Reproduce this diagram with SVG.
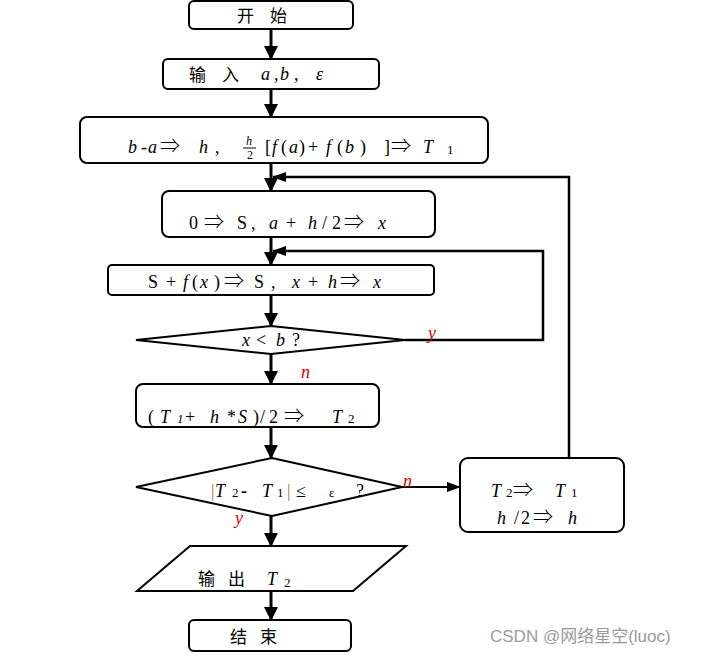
<svg xmlns="http://www.w3.org/2000/svg" width="704" height="656" viewBox="0 0 704 656">
<defs>
<marker id="ah" markerUnits="userSpaceOnUse" markerWidth="14" markerHeight="14" viewBox="0 0 14 14" refX="13" refY="7" orient="auto"><path d="M0,0 L14,7 L0,14 z" fill="#000"/></marker>
<marker id="ahs" markerUnits="userSpaceOnUse" markerWidth="14" markerHeight="10" viewBox="0 0 14 10" refX="13" refY="5" orient="auto"><path d="M0,0 L14,5 L0,10 z" fill="#000"/></marker>
</defs>
<style>
.box{fill:#fff;stroke:#000;stroke-width:2}
.main{stroke:#000;stroke-width:3;fill:none}
.fb{stroke:#000;stroke-width:2.5;fill:none}
.cn{font-family:"Noto Sans CJK SC","Noto Sans CJK JP",serif;font-size:17px;fill:#000}
.m{font-family:"Liberation Serif","DejaVu Serif",serif;font-size:18px;fill:#000}
.i{font-style:italic}
.sub{font-size:13px}
.ar{font-family:"Noto Sans CJK SC","DejaVu Serif",serif;font-size:20px;font-weight:300}
.fr{font-size:12px}
.red{font-family:"Liberation Serif",serif;font-style:italic;font-size:18px;fill:#e00000}
.wm{font-family:"Liberation Sans","Noto Sans CJK SC",sans-serif;font-size:17px;fill:#9a9a9a}
</style>
<g id="connectors">
<line class="main" x1="271" y1="29" x2="271" y2="59" marker-end="url(#ah)"/>
<line class="main" x1="271" y1="89" x2="271" y2="117" marker-end="url(#ah)"/>
<line class="main" x1="271" y1="163" x2="271" y2="191" marker-end="url(#ah)"/>
<line class="main" x1="271" y1="237" x2="271" y2="265" marker-end="url(#ah)"/>
<line class="main" x1="271" y1="295" x2="271" y2="326" marker-end="url(#ah)"/>
<line class="main" x1="271" y1="354" x2="271" y2="384" marker-end="url(#ah)"/>
<line class="main" x1="271" y1="427" x2="271" y2="458" marker-end="url(#ah)"/>
<line class="main" x1="271" y1="516" x2="271" y2="546" marker-end="url(#ah)"/>
<line class="main" x1="271" y1="591" x2="271" y2="620" marker-end="url(#ah)"/>
<polyline class="fb" points="405,340 543,340 543,251 273,251" marker-end="url(#ahs)"/>
<polyline class="fb" points="569,458 569,177 273,177" marker-end="url(#ahs)"/>
<line stroke="#000" stroke-width="2" x1="402" y1="487" x2="460" y2="487" marker-end="url(#ahs)"/>
</g>
<g id="start">
<rect class="box" x="189" y="1" width="164" height="28" rx="5"/>
<text class="cn" y="22"><tspan x="237">开</tspan><tspan x="270">始</tspan></text>
</g>
<g id="input">
<rect class="box" x="163" y="59" width="216" height="30" rx="5"/>
<text class="cn" y="81"><tspan x="189">输</tspan><tspan x="222">入</tspan></text>
<text class="m" y="80"><tspan class="i" x="261">a</tspan><tspan x="274">,</tspan><tspan class="i" x="280">b</tspan><tspan x="294">,</tspan><tspan class="i" x="316">ε</tspan></text>
</g>
<g id="init">
<rect class="box" x="80" y="117" width="408" height="46" rx="7"/>
<text class="m" y="153"><tspan class="i" x="128">b</tspan><tspan x="141">-</tspan><tspan class="i" x="148">a</tspan><tspan class="ar" x="160">⇒</tspan><tspan class="i" x="199">h</tspan><tspan x="215">,</tspan></text>
<text class="m i fr" x="249" y="145" text-anchor="middle">h</text>
<line x1="243" y1="148" x2="256" y2="148" stroke="#000" stroke-width="1"/>
<text class="m fr" x="250" y="159" text-anchor="middle">2</text>
<text class="m" y="153"><tspan x="265">[</tspan><tspan class="i" x="272">f</tspan><tspan x="281">(</tspan><tspan class="i" x="289">a</tspan><tspan x="299">)</tspan><tspan x="308">+</tspan><tspan class="i" x="326">f</tspan><tspan x="337">(</tspan><tspan class="i" x="345">b</tspan><tspan x="360">)</tspan><tspan x="384">]</tspan><tspan class="ar" x="391">⇒</tspan><tspan class="i" x="423">T</tspan><tspan class="sub" x="447" dy="1">1</tspan></text>
</g>
<g id="setS">
<rect class="box" x="162" y="191" width="273" height="46" rx="7"/>
<text class="m" y="229"><tspan x="189">0</tspan><tspan class="ar" x="204">⇒</tspan><tspan x="237">S</tspan><tspan x="251">,</tspan><tspan class="i" x="269">a</tspan><tspan x="286">+</tspan><tspan class="i" x="308">h</tspan><tspan x="322">/</tspan><tspan x="332">2</tspan><tspan class="ar" x="344">⇒</tspan><tspan class="i" x="378">x</tspan></text>
</g>
<g id="accum">
<rect class="box" x="108" y="265" width="326" height="30" rx="4"/>
<text class="m" y="288"><tspan x="148">S</tspan><tspan x="166">+</tspan><tspan class="i" x="183">f</tspan><tspan x="192">(</tspan><tspan class="i" x="200">x</tspan><tspan x="214">)</tspan><tspan class="ar" x="224">⇒</tspan><tspan x="254">S</tspan><tspan x="271">,</tspan><tspan class="i" x="292">x</tspan><tspan x="308">+</tspan><tspan class="i" x="328">h</tspan><tspan class="ar" x="340">⇒</tspan><tspan class="i" x="373">x</tspan></text>
</g>
<g id="cond1">
<polygon class="box" points="271,326 405,340 271,354 136,340"/>
<text class="m" y="346"><tspan class="i" x="242">x</tspan><tspan x="256">&lt;</tspan><tspan class="i" x="276">b</tspan><tspan x="292">?</tspan></text>
</g>
<g id="calcT2">
<rect class="box" x="136" y="384" width="243" height="43" rx="7"/>
<text class="m" y="423"><tspan x="148">(</tspan><tspan class="i" x="160">T</tspan><tspan class="i sub" x="177">1</tspan><tspan x="185">+</tspan><tspan class="i" x="210">h</tspan><tspan x="227">*</tspan><tspan class="i" x="238">S</tspan><tspan x="253">)</tspan><tspan x="260">/</tspan><tspan x="269">2</tspan><tspan class="ar" x="284">⇒</tspan><tspan class="i" x="332">T</tspan><tspan class="sub" x="348">2</tspan></text>
</g>
<g id="cond2">
<polygon class="box" points="272,458 402,487 272,516 136,487"/>
<text class="m" y="497"><tspan x="211" fill="#b07030">|</tspan><tspan class="i" x="215">T</tspan><tspan class="sub" x="232">2</tspan><tspan x="241" font-weight="bold">-</tspan><tspan class="i" x="262">T</tspan><tspan class="sub" x="277">1</tspan><tspan x="287" fill="#b07030">|</tspan><tspan x="296">≤</tspan><tspan x="329" font-size="13">ε</tspan><tspan x="356">?</tspan></text>
</g>
<g id="update">
<rect class="box" x="460" y="458" width="164" height="74" rx="8"/>
<text class="m" y="497"><tspan class="i" x="491">T</tspan><tspan class="sub" x="506">2</tspan><tspan class="ar" x="513">⇒</tspan><tspan class="i" x="555">T</tspan><tspan class="sub" x="571">1</tspan></text>
<text class="m" y="524"><tspan class="i" x="497">h</tspan><tspan x="514">/</tspan><tspan x="521">2</tspan><tspan class="ar" x="533">⇒</tspan><tspan class="i" x="568">h</tspan></text>
</g>
<g id="output">
<polygon class="box" points="190,546 406,546 353,591 137,591"/>
<text class="cn" y="585"><tspan x="198">输</tspan><tspan x="228">出</tspan></text>
<text class="m" y="585"><tspan class="i" x="267">T</tspan><tspan class="sub" x="284" dy="2">2</tspan></text>
</g>
<g id="end">
<rect class="box" x="189" y="620" width="162" height="31" rx="5"/>
<text class="cn" y="643"><tspan x="230">结</tspan><tspan x="260">束</tspan></text>
</g>
<g id="labels">
<text class="red" x="428" y="339">y</text>
<text class="red" x="301" y="378">n</text>
<text class="red" x="403" y="487">n</text>
<text class="red" x="235" y="524">y</text>
</g>
<text class="wm" x="490" y="642">CSDN @网络星空(luoc)</text>
</svg>
